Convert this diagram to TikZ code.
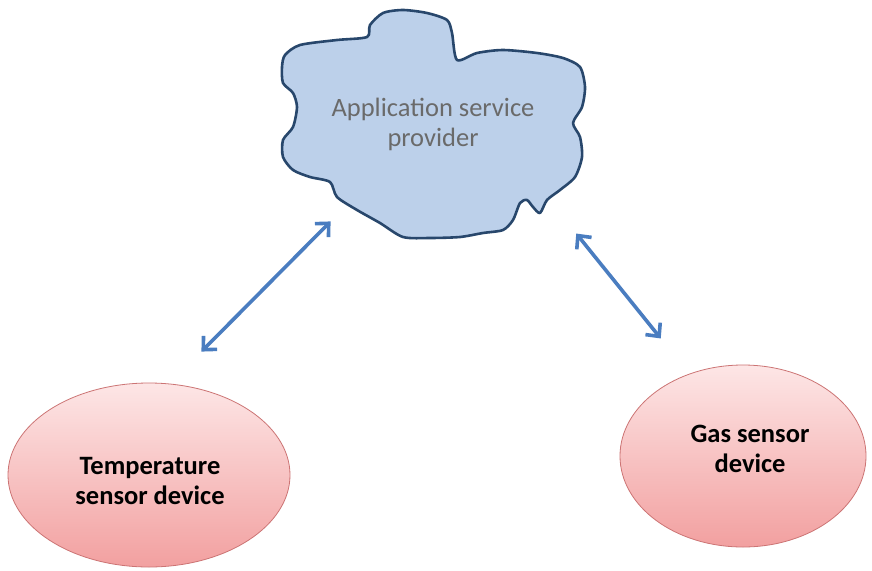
\documentclass[tikz,border=0pt]{standalone}
\usepackage{fontspec}
\setmainfont{Carlito}
\usetikzlibrary{shapes.geometric,arrows.meta}
\definecolor{cloudfill}{HTML}{BCD0EA}
\definecolor{cloudline}{HTML}{28476C}
\definecolor{cloudtext}{HTML}{6A6A6A}
\definecolor{arrowblue}{HTML}{4A7DC0}
\definecolor{pinktop}{HTML}{FDE6E6}
\definecolor{pinkbot}{HTML}{F2A0A0}
\definecolor{pinkline}{HTML}{CC7474}
\tikzset{
  device/.style={ellipse, inner sep=0pt, top color=pinktop, bottom color=pinkbot, draw=pinkline, line width=0.8pt},
  devtext/.style={font=\fontsize{26.5}{30}\selectfont\bfseries, align=center, text=black, inner sep=0pt},
  cloudlabel/.style={font=\fontsize{26.5}{30}\selectfont, align=center, text=cloudtext, inner sep=0pt},
  link/.style={draw=arrowblue, line width=3.6pt, {Straight Barb[length=10pt,width=19pt,line width=3.6pt]}-{Straight Barb[length=10pt,width=19pt,line width=3.6pt]}, shorten <=2pt, shorten >=2pt}
}
\begin{document}
\begin{tikzpicture}[x=1pt,y=-1pt]
\useasboundingbox[fill=white] (0,0) rectangle (872,570);
% cloud
\draw[fill=cloudfill, draw=cloudline, line width=2.6pt, line join=round]
  plot[smooth cycle, tension=0.45] coordinates {
  (285,55) (300,45) (337,40) (367,37) (370,25) (383,13) (403,10) (427,13) (447,20)
  (452,33) (457,60) (477,53) (503,50) (537,53) (563,58) (580,67) (585,87) (582,107)
  (573,123) (580,137) (582,157) (575,177) (560,190) (547,200) (540,213) (533,207)
  (527,200) (520,203) (513,220) (503,230) (483,233) (460,237) (430,238) (403,237)
  (380,223) (357,210) (337,197) (330,182) (310,177) (293,170) (283,157) (283,140)
  (293,127) (297,107) (293,93) (283,83) (282,67)};
\node[cloudlabel] (asp) at (433,124) {Application service\\provider};
% devices
\node[device, minimum width=282pt, minimum height=184pt] (temp) at (149,475) {};
\node[devtext] (templbl) at (150,481) {Temperature\\sensor device};
\node[device, minimum width=246pt, minimum height=182pt] (gas) at (743,456) {};
\node[devtext] (gaslbl) at (750,449) {Gas sensor\\device};
% arrow ends
\coordinate (a1) at (200,353);
\coordinate (a2) at (332,220);
\coordinate (b1) at (575,232);
\coordinate (b2) at (662,340);
\draw[link] (a1) -- (a2);
\draw[link] (b1) -- (b2);
\end{tikzpicture}
\end{document}
